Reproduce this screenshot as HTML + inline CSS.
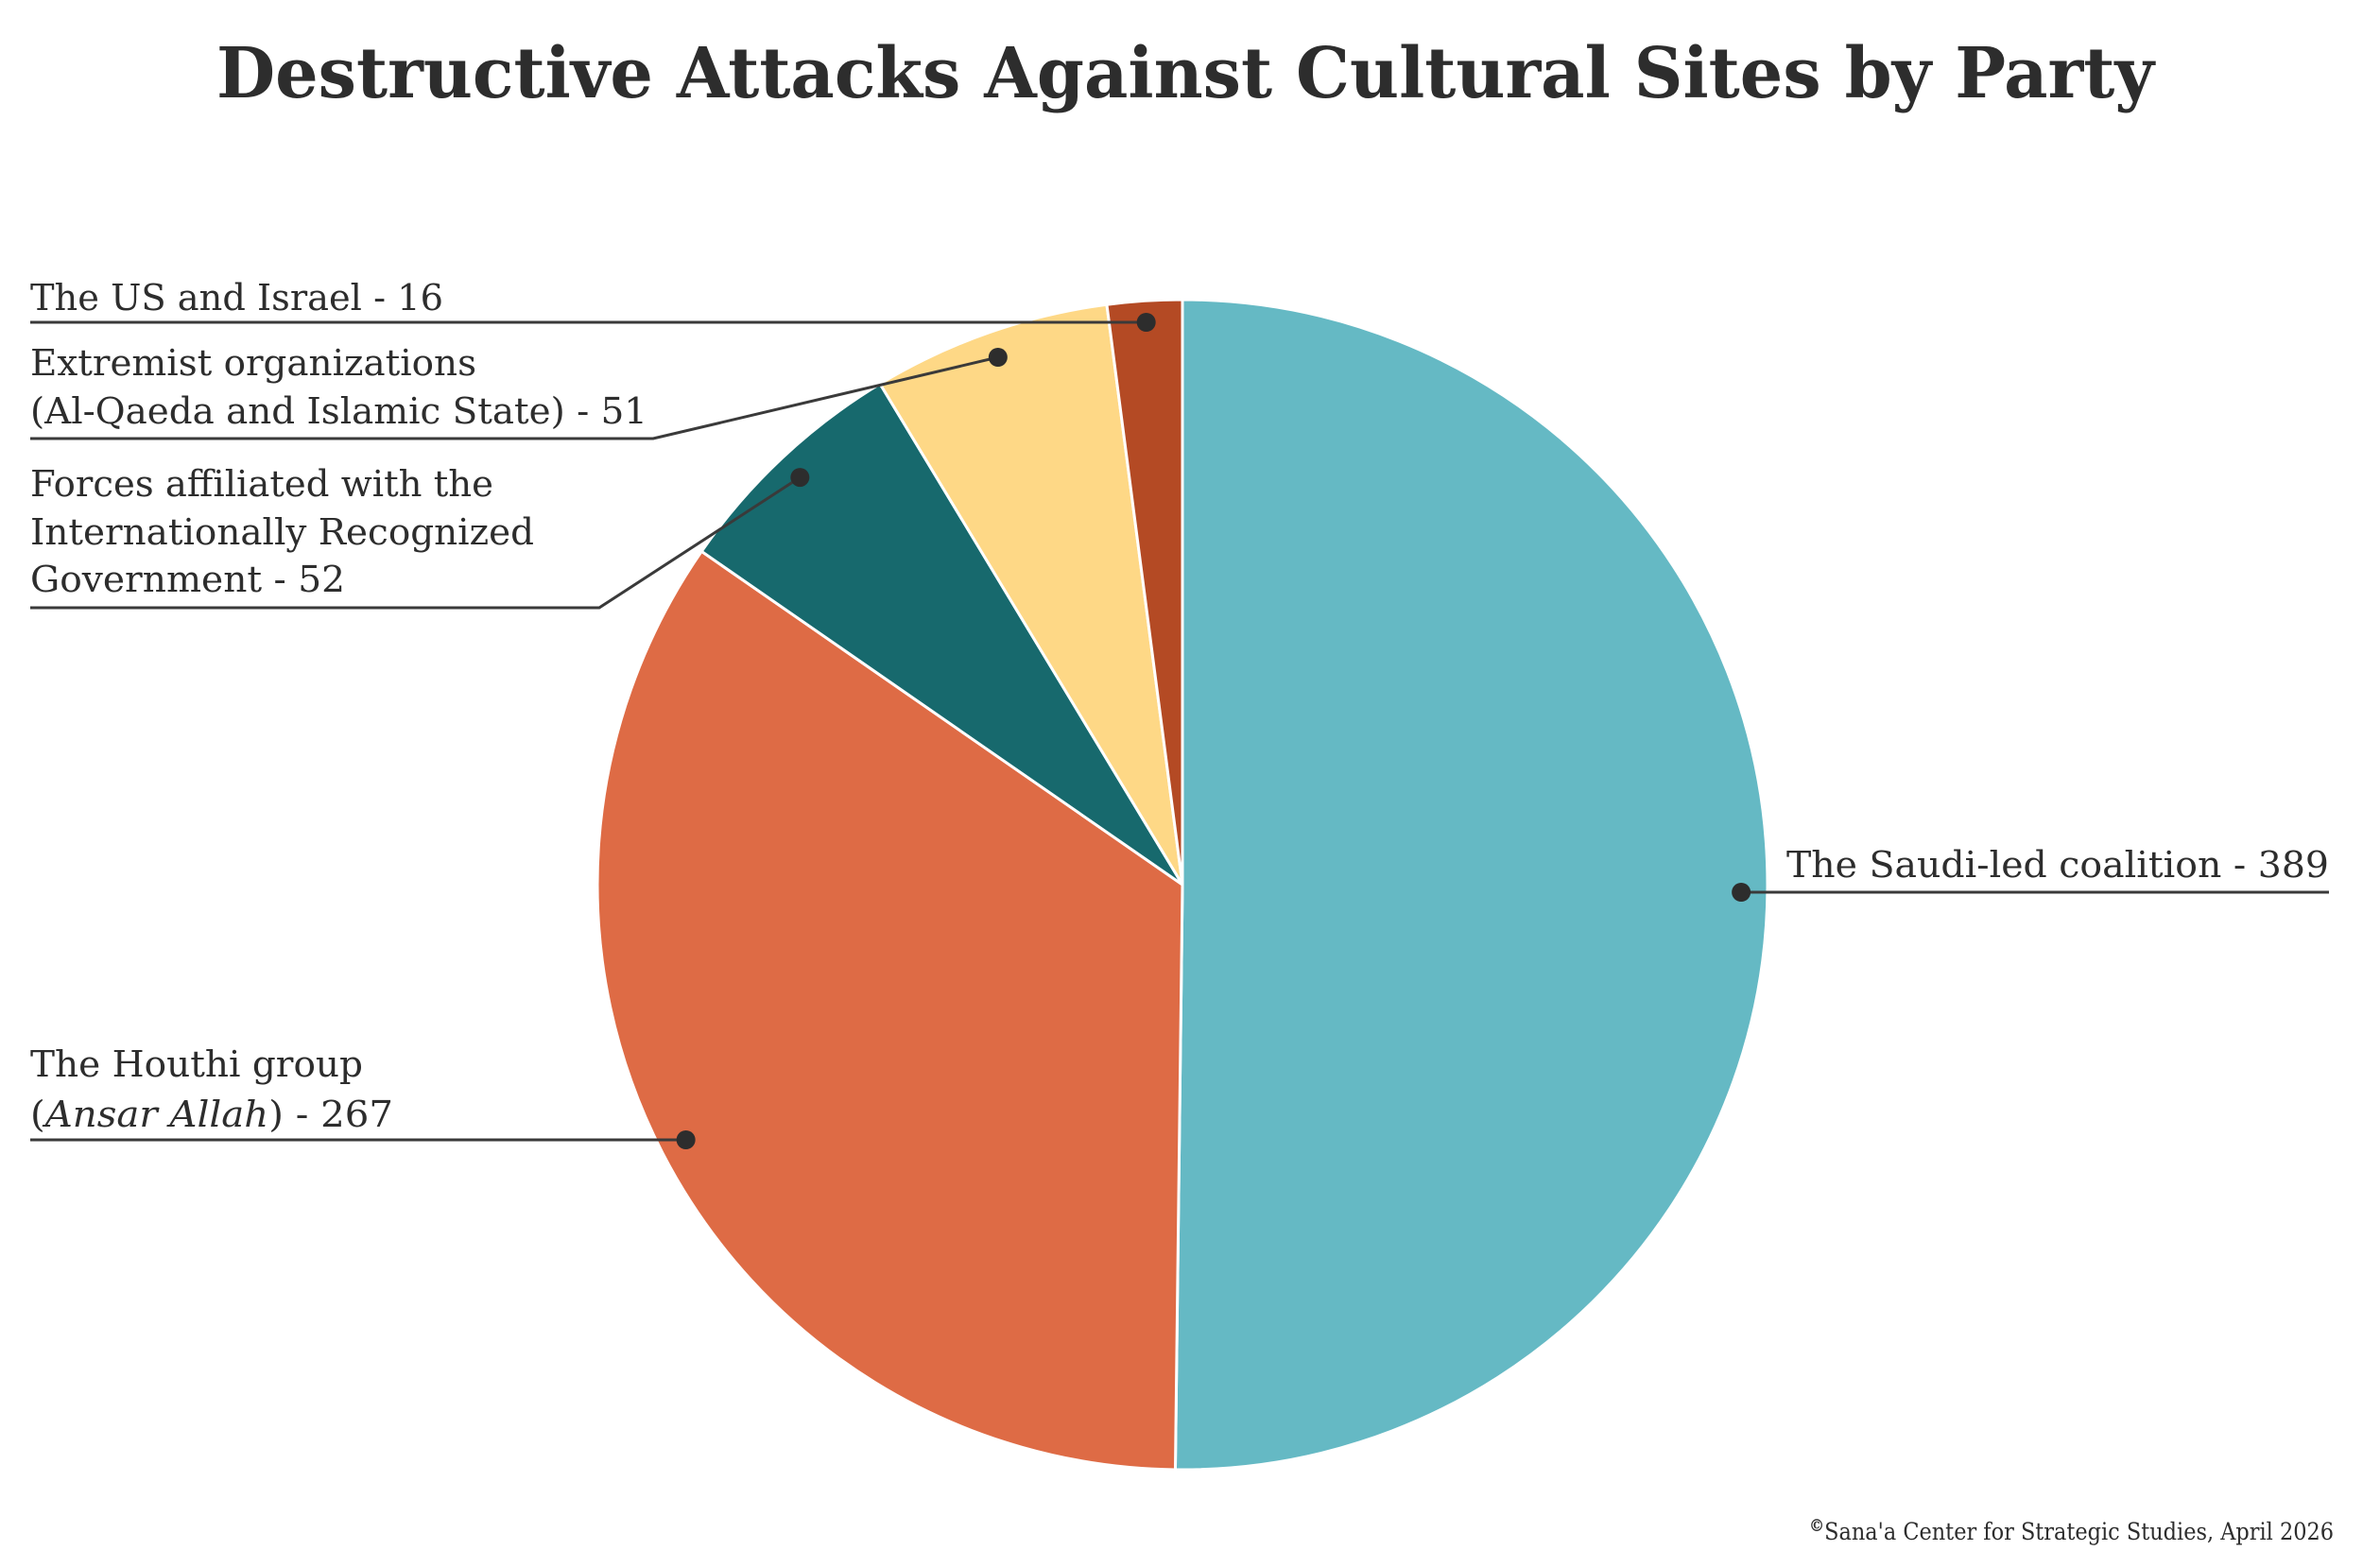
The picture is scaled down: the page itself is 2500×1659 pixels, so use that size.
<!DOCTYPE html>
<html><head><meta charset="utf-8"><style>
html,body{margin:0;padding:0;background:#fff;}
svg{display:block;}
text{font-family:"DejaVu Serif","Liberation Serif",serif;fill:#2d2d2d;}
</style></head><body>
<svg id="chart" width="2500" height="1659" viewBox="0 0 2500 1659">
<text x="1254" y="103" text-anchor="middle" font-size="74" font-weight="bold" textLength="2050" lengthAdjust="spacingAndGlyphs">Destructive Attacks Against Cultural Sites by Party</text>
<g id="slices"></g>
<g id="leaders"></g>
<g id="labels">
<text x="1890" y="928" font-size="38" textLength="574" lengthAdjust="spacingAndGlyphs">The Saudi-led coalition - 389</text>
<text x="32" y="1139" font-size="38" textLength="352" lengthAdjust="spacingAndGlyphs">The Houthi group</text>
<text x="32" y="1192" font-size="38" textLength="384" lengthAdjust="spacingAndGlyphs">(<tspan font-style="italic">Ansar Allah</tspan>) - 267</text>
<text x="32" y="525" font-size="38" textLength="490" lengthAdjust="spacingAndGlyphs">Forces affiliated with the</text>
<text x="32" y="576" font-size="38" textLength="533" lengthAdjust="spacingAndGlyphs">Internationally Recognized</text>
<text x="32" y="626" font-size="38" textLength="333" lengthAdjust="spacingAndGlyphs">Government - 52</text>
<text x="32" y="397" font-size="38" textLength="472" lengthAdjust="spacingAndGlyphs">Extremist organizations</text>
<text x="32" y="448" font-size="38" textLength="653" lengthAdjust="spacingAndGlyphs">(Al-Qaeda and Islamic State) - 51</text>
<text x="32" y="328" font-size="38" textLength="437" lengthAdjust="spacingAndGlyphs">The US and Israel - 16</text>
</g>
<text x="2469" y="1629" font-size="25" font-weight="bold" text-anchor="end" textLength="555" lengthAdjust="spacingAndGlyphs"><tspan font-size="18" dy="-9">©</tspan><tspan dy="9" font-weight="normal">Sana'a Center for Strategic Studies, April 2026</tspan></text>
</svg>
<script>
const categories = ["The Saudi-led coalition","The Houthi group","Forces affiliated with the IRG","Extremist organizations","The US and Israel"];
const values = [389, 267, 52, 51, 16];
const colors = ["#65b9c4","#de6b45","#17696d","#fed886","#b44a24"];
const cx = 1251, cy = 936, R = 619;
const NS = "http://www.w3.org/2000/svg";
// leader anchors: [lineStartX, lineY, elbowX]
const leaderEnds = [[2464,944,null],[32,1206,null],[32,643,634],[32,464,691],[32,341,null]];
const total = values.reduce((a,b)=>a+b,0);
function pt(angDeg, r){const a=angDeg*Math.PI/180;return [cx+r*Math.sin(a), cy-r*Math.cos(a)];}
const gS=document.getElementById('slices'), gL=document.getElementById('leaders');
let start=0;
values.forEach((v,i)=>{
  const sweep=v/total*360, end=start+sweep;
  const p0=pt(start,R), p1=pt(end,R);
  const path=document.createElementNS(NS,'path');
  path.setAttribute('d',`M${cx},${cy} L${p0[0]},${p0[1]} A${R},${R} 0 ${sweep>180?1:0} 1 ${p1[0]},${p1[1]} Z`);
  path.setAttribute('fill',colors[i]);
  path.setAttribute('stroke','#fff');
  path.setAttribute('stroke-width','3');
  
  
  gS.appendChild(path);
  const d=pt(start+sweep/2,R*0.955);
  const le=leaderEnds[i];
  const pl=document.createElementNS(NS,'polyline');
  let pts = le[2]===null ? `${le[0]},${le[1]} ${d[0]},${le[1]}` : `${le[0]},${le[1]} ${le[2]},${le[1]} ${d[0]},${d[1]}`;
  pl.setAttribute('points',pts);
  pl.setAttribute('fill','none');
  pl.setAttribute('stroke','#3a3a3a');
  pl.setAttribute('stroke-width','3');
  
  
  gL.appendChild(pl);
  const c=document.createElementNS(NS,'circle');
  c.setAttribute('cx',d[0]);c.setAttribute('cy',le[2]===null?le[1]:d[1]);c.setAttribute('r','10');
  c.setAttribute('fill','#2d2d2d');
  
  
  gL.appendChild(c);
  start=end;
});
</script>
</body></html>
